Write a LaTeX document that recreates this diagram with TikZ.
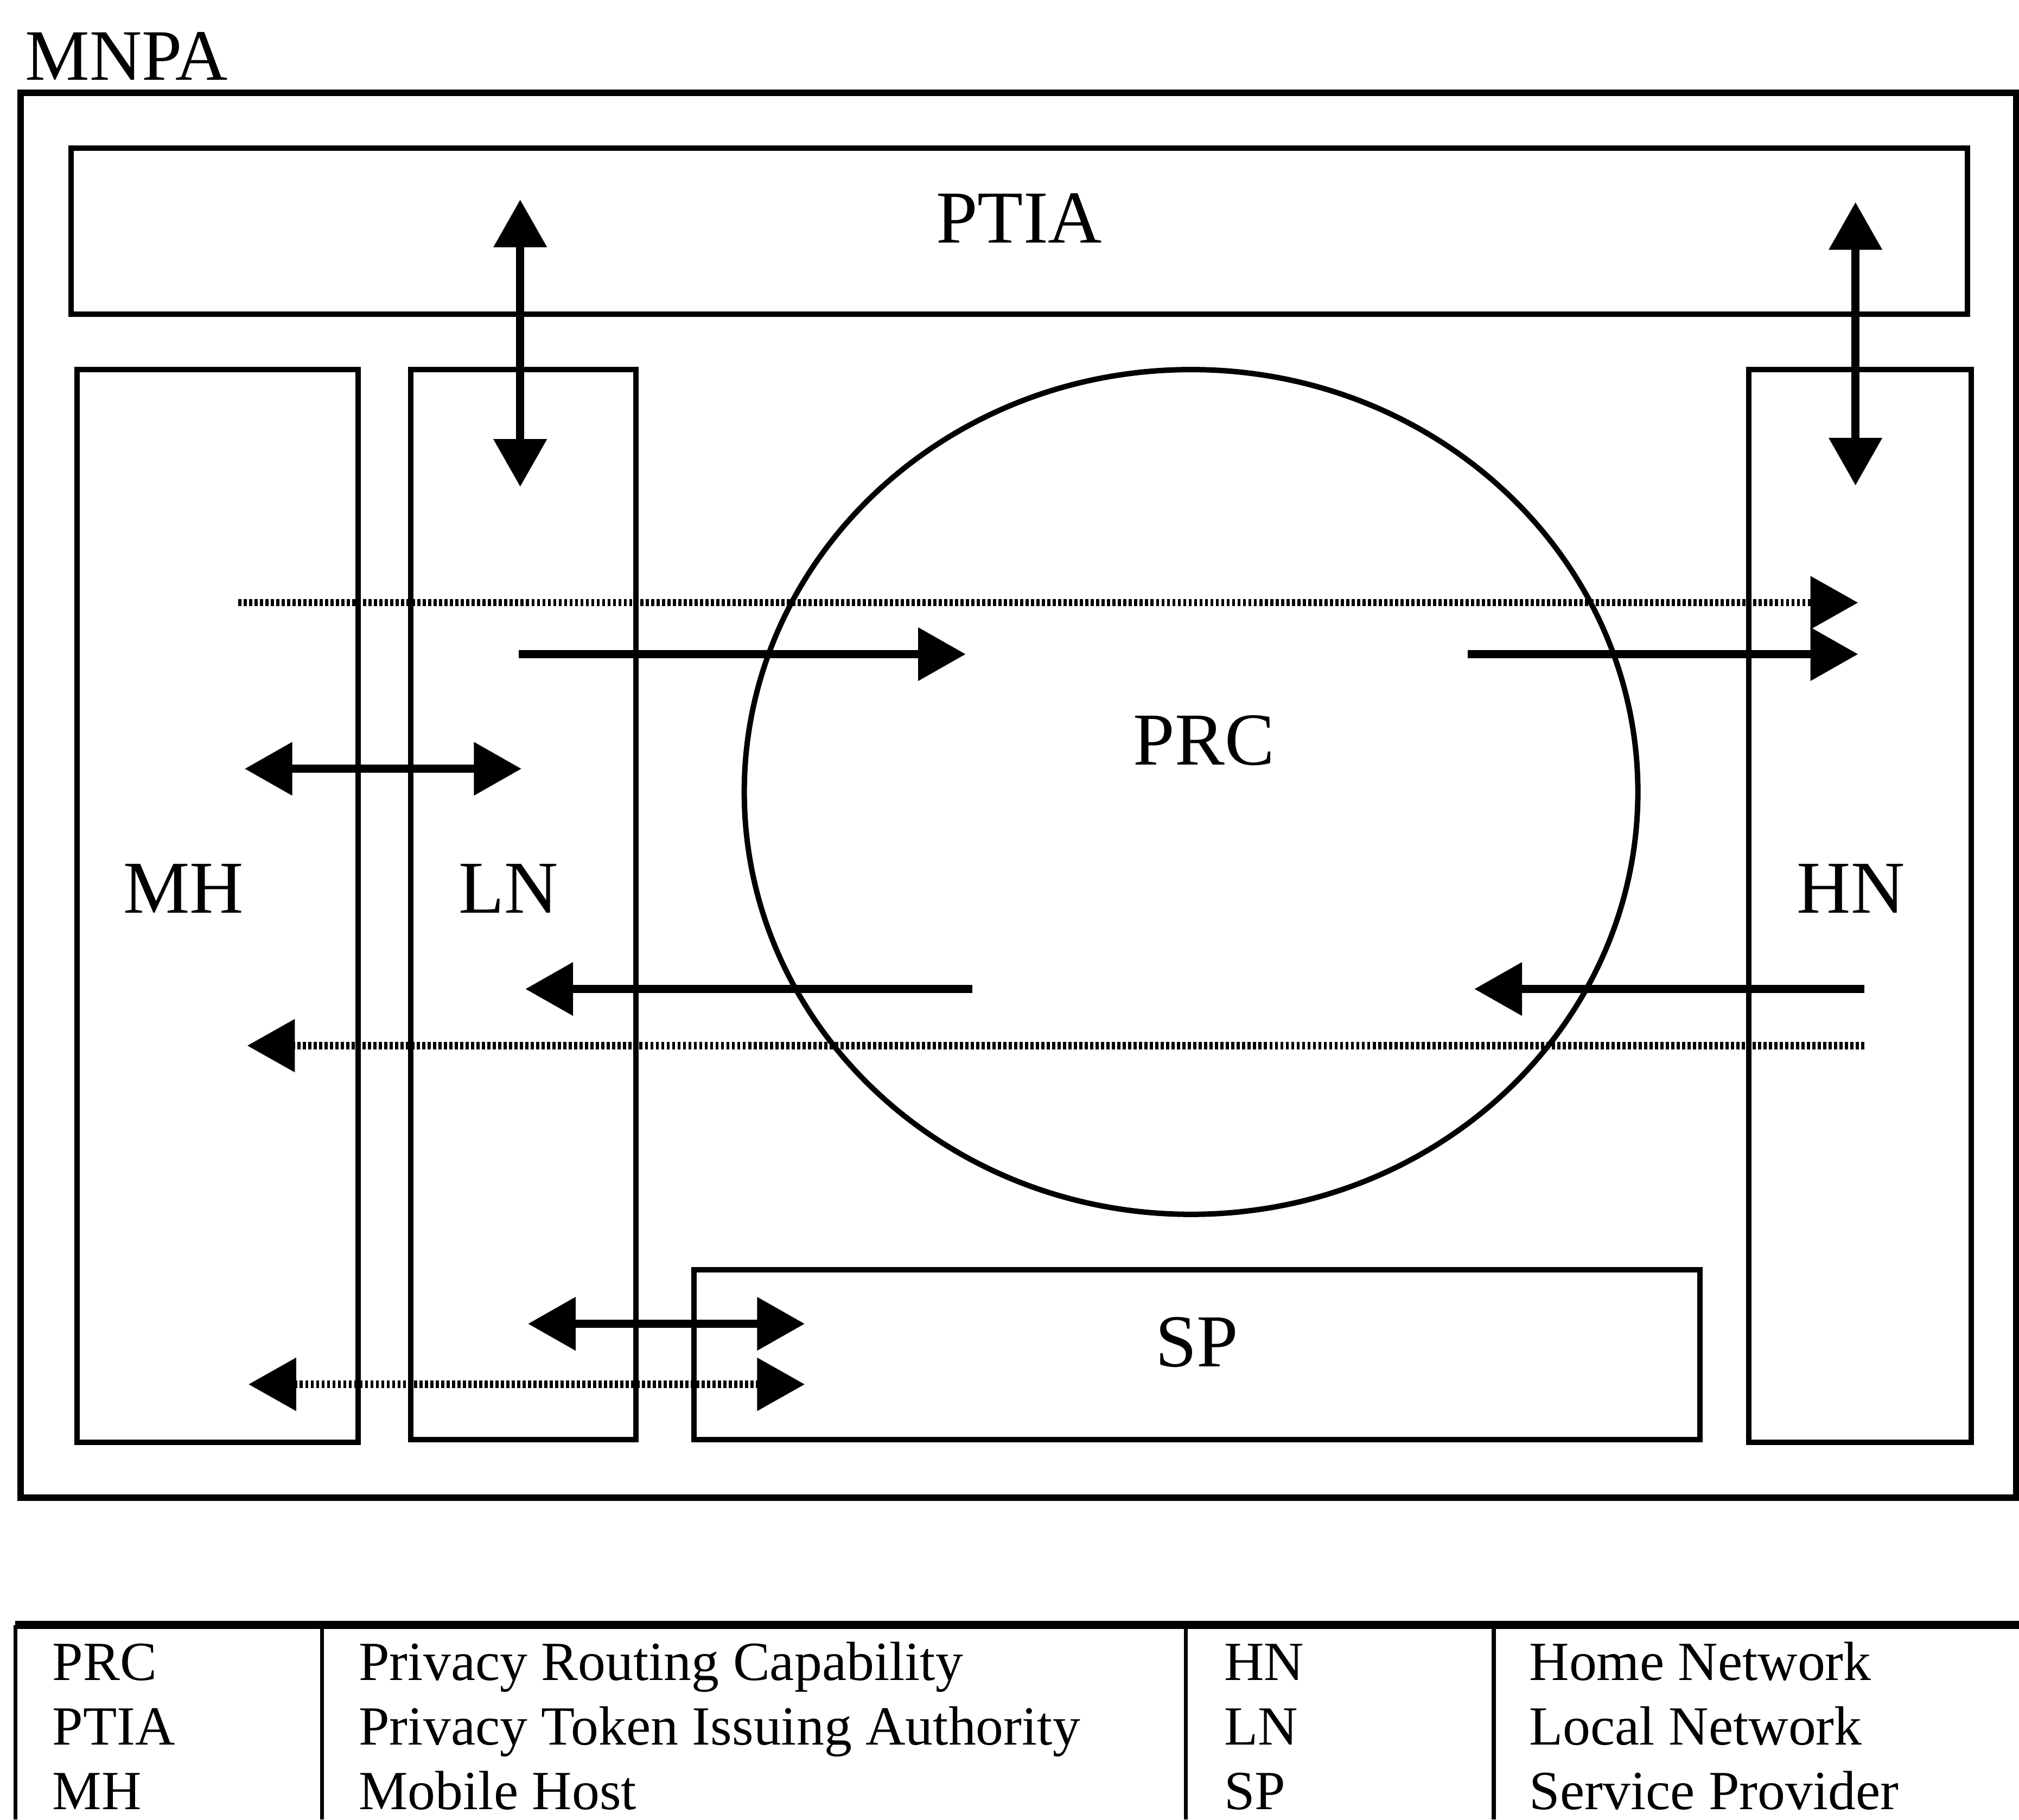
\documentclass[tikz,border=0pt]{standalone}
\usepackage{fontspec}
\setmainfont{Liberation Serif}
\usetikzlibrary{arrows.meta,shapes.geometric}

\begin{document}
\begin{tikzpicture}[scale=1.0,
    >={Triangle[length=3.7mm,width=4mm]},
    box/.style={draw, line width=1.2pt, inner sep=0pt, text depth=2mm,
      font=\fontsize{16.5}{20}\selectfont},
    lbl/.style={inner sep=0pt, font=\fontsize{16.5}{20}\selectfont},
    solidarr/.style={line width=1.8pt},
    dotarr/.style={line width=1.6pt, dash pattern=on 0.7pt off 0.5pt,
      >={Triangle[length=3.7mm,width=4mm,sep=1mm]}},
    cell/.style={anchor=base west, inner sep=0pt, font=\fontsize{12.2}{14}\selectfont},
    rule/.style={line width=0.9pt}]
  \useasboundingbox (0,0) rectangle (15.68,14.13);

  % frame
  \node[anchor=base west, inner sep=0pt, font=\fontsize{16}{19}\selectfont] (mnpalbl) at (0.19,13.51) {MNPA};
  \node[draw, line width=1.5pt, inner sep=0pt, minimum width=15.50cm, minimum height=10.91cm] (mnpa) at (7.91,7.955) {};

  % parts
  \node[box, minimum width=14.73cm, minimum height=1.29cm] (ptia) at (7.915,12.335) {PTIA};
  \node[box, minimum width=2.18cm, minimum height=8.33cm] (mh) at (1.69,7.095) {};
  \node[box, minimum width=1.75cm, minimum height=8.31cm] (ln) at (4.065,7.105) {};
  \node[box, minimum width=1.73cm, minimum height=8.33cm] (hn) at (14.445,7.095) {};
  \node[box, minimum width=7.81cm, minimum height=1.32cm] (sp) at (9.295,3.61) {SP};
  \node[draw, ellipse, line width=1.2pt, inner sep=0pt, minimum width=6.94cm, minimum height=6.56cm] (prc) at (9.25,7.98) {};
  \node[lbl] (mhlbl) at (1.425,7.23) {MH};
  \node[lbl] (lnlbl) at (3.95,7.23) {LN};
  \node[lbl] (hnlbl) at (14.375,7.23) {HN};
  \node[lbl] (prclbl) at (9.35,8.38) {PRC};

  % arrow ends
  \coordinate (lnlow) at (4.04,10.35);
  \coordinate (lnhigh) at (4.04,12.58);
  \coordinate (hnlow) at (14.41,10.36);
  \coordinate (hnhigh) at (14.41,12.56);
  \coordinate (dotAs) at (1.85,9.45);
  \coordinate (dotAe) at (14.53,9.45);
  \coordinate (outAs) at (4.03,9.05);
  \coordinate (outAe) at (7.50,9.05);
  \coordinate (outBs) at (11.40,9.05);
  \coordinate (outBe) at (14.43,9.05);
  \coordinate (mhln1) at (1.90,8.16);
  \coordinate (mhln2) at (4.05,8.16);
  \coordinate (backAs) at (7.55,6.45);
  \coordinate (backAe) at (4.08,6.45);
  \coordinate (backBs) at (14.48,6.45);
  \coordinate (backBe) at (11.45,6.45);
  \coordinate (dotBs) at (14.48,6.01);
  \coordinate (dotBe) at (1.82,6.01);
  \coordinate (lnsp1) at (4.10,3.85);
  \coordinate (lnsp2) at (6.25,3.85);
  \coordinate (mhsp1) at (1.83,3.38);
  \coordinate (mhsp2) at (6.35,3.38);

  % arrows
  \draw[solidarr, <->] (lnlow) -- (lnhigh);
  \draw[solidarr, <->] (hnlow) -- (hnhigh);
  \draw[dotarr, ->] (dotAs) -- (dotAe);
  \draw[solidarr, ->] (outAs) -- (outAe);
  \draw[solidarr, ->] (outBs) -- (outBe);
  \draw[solidarr, <->] (mhln1) -- (mhln2);
  \draw[solidarr, ->] (backAs) -- (backAe);
  \draw[solidarr, ->] (backBs) -- (backBe);
  \draw[dotarr, ->] (dotBs) -- (dotBe);
  \draw[solidarr, <->] (lnsp1) -- (lnsp2);
  \draw[dotarr, <->] (mhsp1) -- (mhsp2);

  % legend
  \draw[line width=1.8pt] (0.12,1.51) -- (15.68,1.51);
  \draw[rule] (0.12,1.51) -- (0.12,0);
  \draw[rule] (2.50,1.51) -- (2.50,0);
  \draw[rule] (9.21,1.51) -- (9.21,0);
  \draw[rule] (11.60,1.51) -- (11.60,0);
  \node[cell] (k1) at (0.40,1.08) {PRC};
  \node[cell] (v1) at (2.78,1.08) {Privacy Routing Capability};
  \node[cell] (k2) at (0.40,0.58) {PTIA};
  \node[cell] (v2) at (2.78,0.58) {Privacy Token Issuing Authority};
  \node[cell] (k3) at (0.40,0.08) {MH};
  \node[cell] (v3) at (2.78,0.08) {Mobile Host};
  \node[cell] (k4) at (9.50,1.08) {HN};
  \node[cell] (v4) at (11.87,1.08) {Home Network};
  \node[cell] (k5) at (9.50,0.58) {LN};
  \node[cell] (v5) at (11.87,0.58) {Local Network};
  \node[cell] (k6) at (9.50,0.08) {SP};
  \node[cell] (v6) at (11.87,0.08) {Service Provider};
\end{tikzpicture}
\end{document}
